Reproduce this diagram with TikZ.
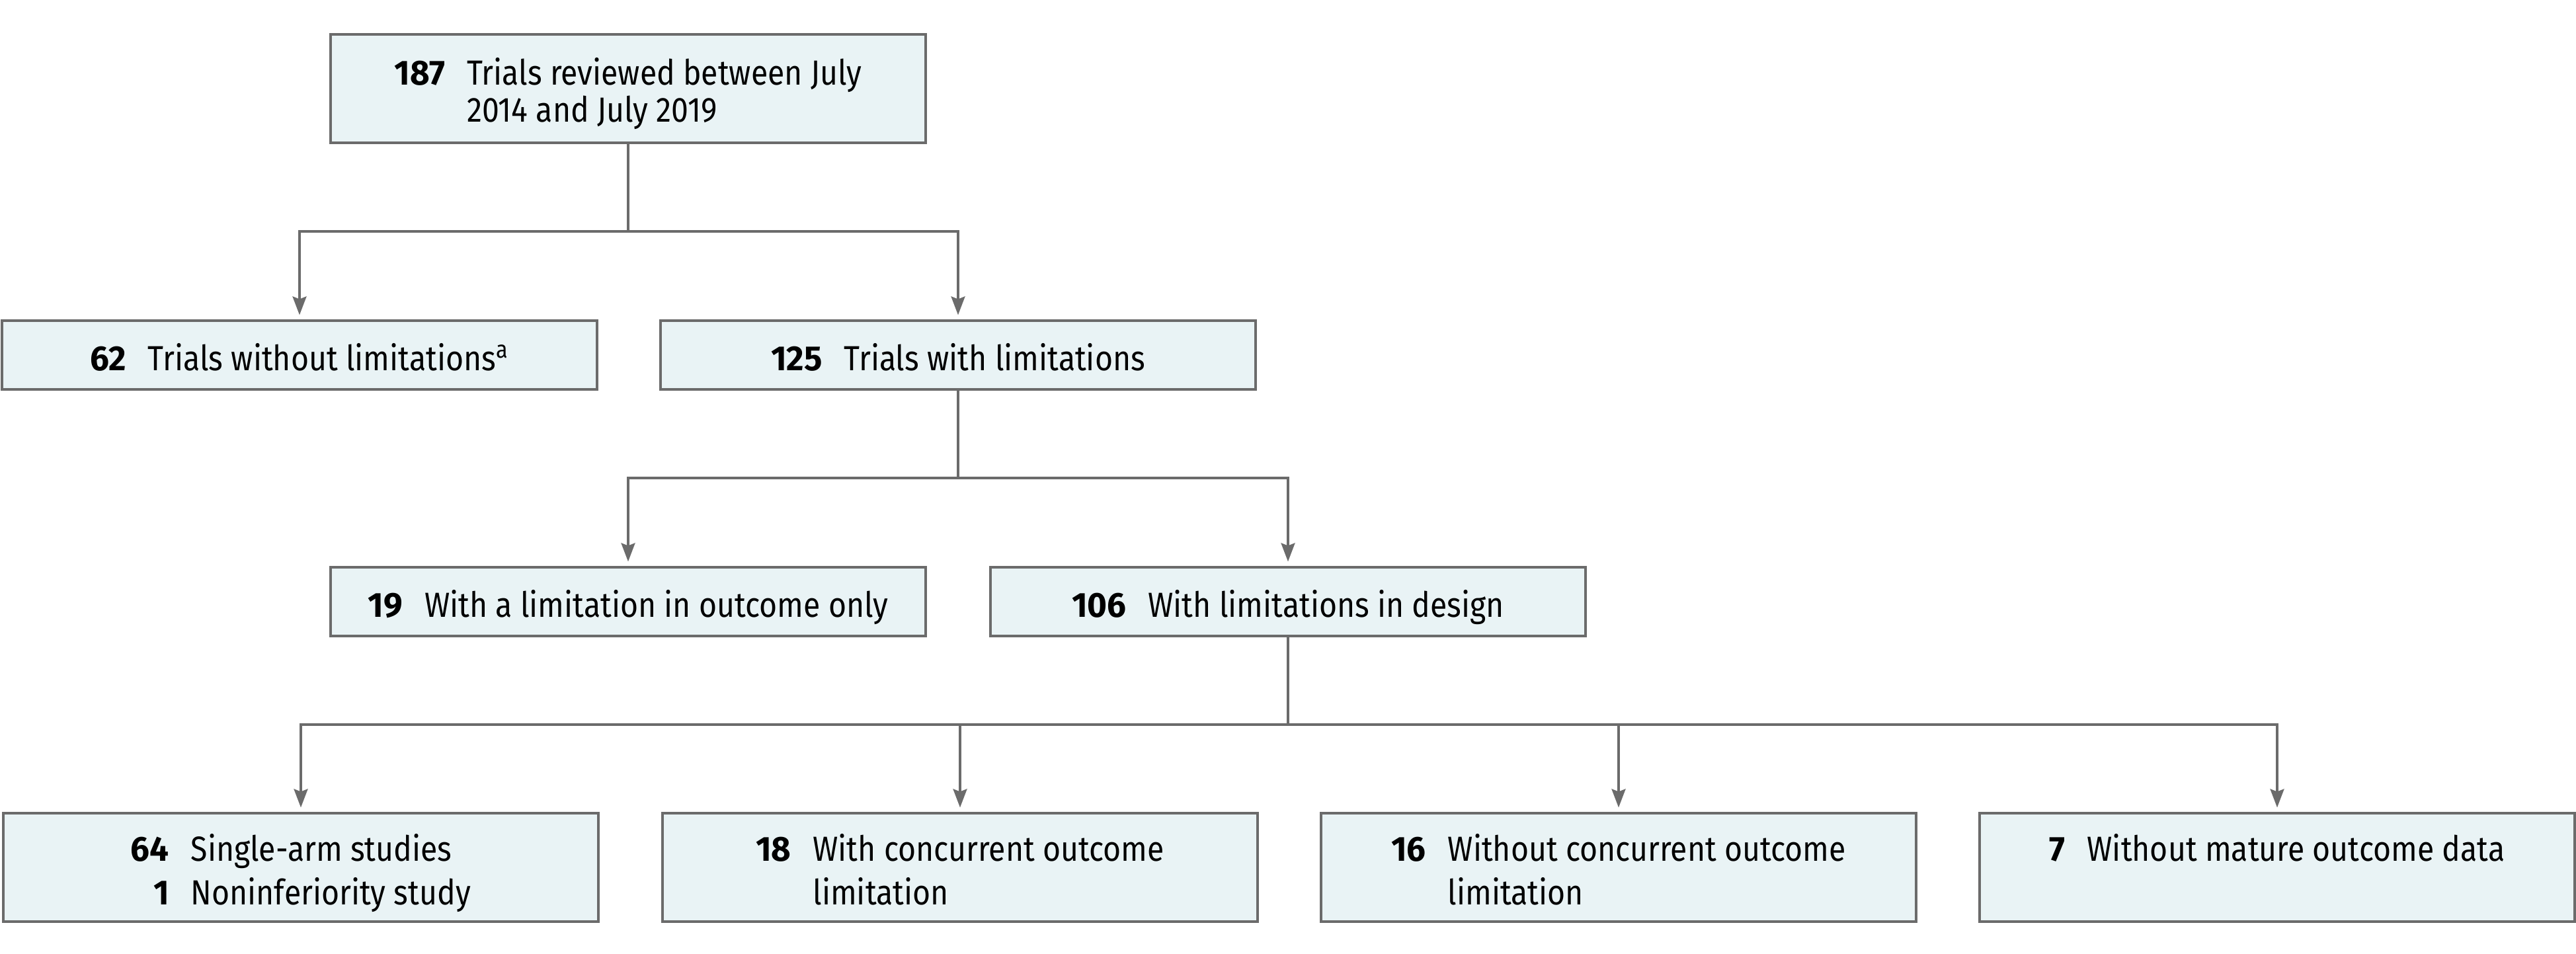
\documentclass[tikz,border=0pt]{standalone}
\usepackage{fontspec}
\setmainfont{Fira Sans}[FakeStretch=0.88,BoldFeatures={FakeStretch=0.97}]
\usetikzlibrary{arrows.meta}
\definecolor{boxfill}{HTML}{E9F3F5}
\definecolor{rule}{HTML}{6B6B6B}
\newcommand{\low}[1]{\raisebox{-0.1cm}[\height][\depth]{#1}}
\newcommand{\entry}[3]{\low{\begin{tabular}{@{}r@{\hspace{0.33cm}}l@{}}\textbf{#1} & #2\\ & #3\end{tabular}}}
\newcommand{\entryone}[2]{\low{\begin{tabular}{@{}r@{\hspace{0.33cm}}l@{}}\textbf{#1} & #2\end{tabular}}}
\tikzset{
  >={Stealth[length=0.28cm,width=0.21cm,inset=0.04cm]},
  fbox/.style={draw=rule,fill=boxfill,line width=0.9pt,minimum width=9cm,
    inner sep=0pt,font=\fontsize{15}{18.8}\selectfont},
  tallbox/.style={fbox,minimum height=1.64cm},
  lowbox/.style={fbox,minimum height=1.04cm},
  link/.style={rule,line width=0.9pt},
  flow/.style={link,->,shorten >=0.07cm},
}
\begin{document}
\begin{tikzpicture}
  \useasboundingbox (0,0) rectangle (38.96,-14.42);
  % level 0
  \node[tallbox,font=\fontsize{15}{15.8}\selectfont] (rev) at (9.50,-1.34)
    {\entry{187}{Trials reviewed between July}{2014 and July 2019}};
  % level 1
  \node[lowbox] (nolim) at (4.53,-5.37) {\entryone{62}{Trials without limitations\textsuperscript{a}}};
  \node[lowbox] (lim) at (14.49,-5.37) {\entryone{125}{Trials with limitations}};
  % level 2
  \node[lowbox] (outonly) at (9.50,-9.10) {\entryone{19}{With a limitation in outcome only}};
  \node[lowbox] (design) at (19.48,-9.10) {\entryone{106}{With limitations in design}};
  % level 3
  \node[tallbox] (single) at (4.55,-13.12)
    {\low{\begin{tabular}{@{}r@{\hspace{0.33cm}}l@{}}\textbf{64} & Single-arm studies\\ \textbf{1} & Noninferiority study\end{tabular}}};
  \node[tallbox] (concur) at (14.52,-13.12) {\entry{18}{With concurrent outcome}{limitation}};
  \node[tallbox] (noconcur) at (24.48,-13.12) {\entry{16}{Without concurrent outcome}{limitation}};
  \node[tallbox] (immature) at (34.44,-13.12) {\entry{7}{Without mature outcome data}{\strut}};

  \coordinate (j1) at (9.50,-3.50);
  \coordinate (j2) at (14.49,-7.23);
  \coordinate (j3) at (19.48,-10.96);

  \draw[link] (rev.south) -- (j1);
  \draw[flow] (j1) -| (nolim.north);
  \draw[flow] (j1) -| (lim.north);

  \draw[link] (lim.south) -- (j2);
  \draw[flow] (j2) -| (outonly.north);
  \draw[flow] (j2) -| (design.north);

  \draw[link] (design.south) -- (j3);
  \foreach \b in {single,concur,noconcur,immature}
    \draw[flow] (j3) -| (\b.north);
\end{tikzpicture}
\end{document}
